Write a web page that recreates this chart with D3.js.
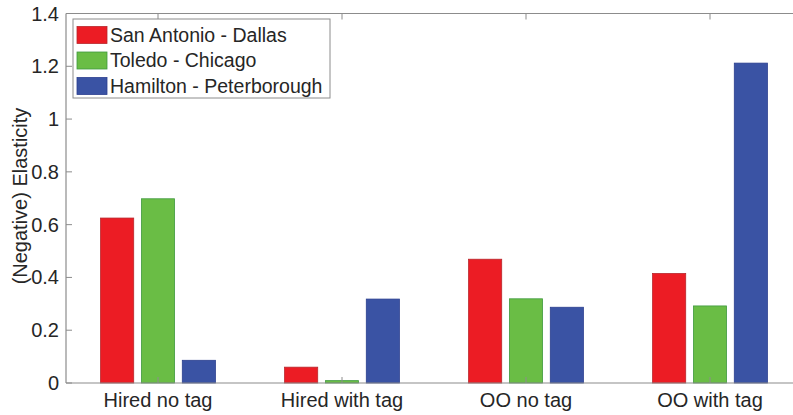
<!DOCTYPE html>
<html>
<head>
<meta charset="utf-8">
<script src="https://cdn.jsdelivr.net/npm/d3@7"></script>
<style>
  body { margin: 0; background: #fff; }
  text { font-family: "Liberation Sans", Arial, sans-serif; fill: #262626; }
</style>
</head>
<body>
<script>
// grouped bar chart of elasticities
let w = 793;
let h = 415;

let categories = ["Hired no tag", "Hired with tag", "OO no tag", "OO with tag"];
let seriesNames = ["San Antonio - Dallas", "Toledo - Chicago", "Hamilton - Peterborough"];
let sanAntonio = [0.625, 0.06, 0.469, 0.415];
let toledo = [0.698, 0.009, 0.319, 0.292];
let hamilton = [0.086, 0.318, 0.287, 1.212];
let yTicks = [0, 0.2, 0.4, 0.6, 0.8, 1, 1.2, 1.4];

let fills = ["#ec1c24", "#6abd45", "#3a53a4"];
let strokes = ["#b8262c", "#3f9a3f", "#2b3f8f"];

let series = [sanAntonio, toledo, hamilton];

let svg = d3.select('body').append('svg')
    .attr('width', w)
    .attr('height', h);

// axis in category units, matlab style: 0.5 .. 4.5
let x = d3.scaleLinear().domain([0.5, 4.5]).range([66, 802]);
let y = d3.scaleLinear().domain([0, 1.4]).range([383, 13.5]);

let offsets = [-0.222, 0, 0.222];
let bw = 0.18;

series.forEach((vals, s) => {
    svg.append('g').selectAll('rect')
        .data(vals)
        .enter()
        .append('rect')
        .attr('x', (d, i) => x(i + 1 + offsets[s] - bw / 2))
        .attr('y', d => y(d))
        .attr('width', x(bw) - x(0))
        .attr('height', d => y(0) - y(d))
        .attr('fill', fills[s])
        .attr('stroke', strokes[s])
        .attr('stroke-width', 0.8);
});

let axisColor = '#8c8c8c';

// box
svg.append('line').attr('x1', x(0.5)).attr('x2', x(4.5)).attr('y1', y(0)).attr('y2', y(0))
    .attr('stroke', axisColor).attr('stroke-width', 1.2);
svg.append('line').attr('x1', x(0.5)).attr('x2', x(4.5)).attr('y1', y(1.4)).attr('y2', y(1.4))
    .attr('stroke', axisColor).attr('stroke-width', 1.2);
svg.append('line').attr('x1', x(0.5)).attr('x2', x(0.5)).attr('y1', y(0)).attr('y2', y(1.4))
    .attr('stroke', axisColor).attr('stroke-width', 1.2);

// y ticks
let yt = svg.append('g');
yt.selectAll('line').data(yTicks).enter().append('line')
    .attr('x1', x(0.5)).attr('x2', x(0.5) + 6)
    .attr('y1', d => y(d)).attr('y2', d => y(d))
    .attr('stroke', axisColor);
yt.selectAll('text').data(yTicks).enter().append('text')
    .attr('x', x(0.5) - 7)
    .attr('y', d => y(d))
    .attr('dy', '0.35em')
    .attr('text-anchor', 'end')
    .attr('font-size', 20)
    .text(d => d3.format('')(d));

// x ticks (bottom and top, inward)
let xt = svg.append('g');
categories.forEach((c, i) => {
    xt.append('line').attr('x1', x(i + 1)).attr('x2', x(i + 1))
        .attr('y1', y(0)).attr('y2', y(0) - 6).attr('stroke', axisColor);
    xt.append('line').attr('x1', x(i + 1)).attr('x2', x(i + 1))
        .attr('y1', y(1.4)).attr('y2', y(1.4) + 6).attr('stroke', axisColor);
    xt.append('text')
        .attr('x', x(i + 1))
        .attr('y', 407)
        .attr('text-anchor', 'middle')
        .attr('font-size', 20)
        .text(c);
});

// y label
svg.append('text')
    .attr('transform', 'translate(27,196) rotate(-90)')
    .attr('text-anchor', 'middle')
    .attr('font-size', 20)
    .text('(Negative) Elasticity');

// legend
let lg = svg.append('g');
lg.append('rect')
    .attr('x', 73).attr('y', 19).attr('width', 257).attr('height', 79)
    .attr('fill', '#fff').attr('stroke', axisColor).attr('stroke-width', 1);
seriesNames.forEach((n, i) => {
    lg.append('rect')
        .attr('x', 77).attr('y', 26.5 + i * 25.5)
        .attr('width', 30).attr('height', 17)
        .attr('fill', fills[i]).attr('stroke', strokes[i]).attr('stroke-width', 0.8);
    lg.append('text')
        .attr('x', 110).attr('y', 35 + i * 25.5)
        .attr('dy', '0.35em')
        .attr('font-size', 19.5)
        .text(n);
});
</script>
</body>
</html>
